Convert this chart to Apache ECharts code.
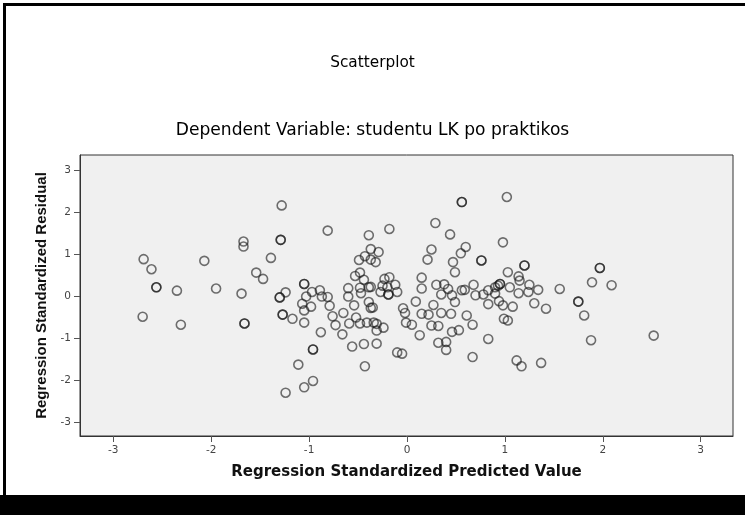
<!DOCTYPE html>
<html>
<head>
<meta charset="utf-8">
<script src="https://cdn.jsdelivr.net/npm/echarts@6/dist/echarts.min.js"></script>
<style>html,body{margin:0;padding:0;background:#fff;}#c{width:745px;height:515px;}</style>
</head>
<body>
<div id="c"></div>
<script>
// Regression standardized predicted values (x) and residuals (y)
const predicted = [
 -1.28,-1.67,-1.67,-0.81,-1.29,-1.29,-2.69,-2.61,-2.07,-1.39,-1.54,-1.47,-2.56,-2.56,-2.35,-1.95,-1.69,-2.70,-2.31,-1.66,-1.66,
 -1.30,-1.30,-1.24,-1.27,-1.27,-1.17,-1.05,-1.05,-1.07,-1.05,-1.03,-0.97,-0.98,-1.05,-0.89,-0.87,-0.81,-0.79,-0.76,-0.73,-0.88,
 -0.96,-0.96,-1.11,-0.96,-1.05,-1.24,-0.65,-0.66,-0.59,-0.60,-0.60,-0.54,-0.53,-0.48,-0.49,-0.43,-0.37,-0.39,-0.48,-0.47,-0.44,
 -0.39,-0.37,-0.39,-0.37,-0.35,-0.52,-0.48,-0.41,-0.34,-0.56,-0.44,-0.43,-0.31,-0.31,-0.32,-0.29,-0.37,-0.18,
 1.02,0.56,0.56,0.29,0.44,0.98,0.25,0.60,0.55,0.21,0.76,0.76,0.47,0.49,1.20,1.20,1.03,1.97,1.97,1.89,2.09,1.56,1.14,1.15,1.25,
 1.24,1.34,1.14,1.05,0.95,0.95,0.93,0.90,0.83,0.78,0.90,0.70,0.68,0.59,0.56,0.83,0.94,0.98,1.08,1.30,1.42,1.75,1.75,1.81,1.88,
 2.52,0.99,1.03,0.83,1.12,1.17,1.37,0.67,0.40,0.32,0.40,-0.10,-0.05,0.13,0.46,0.53,0.67,0.25,0.32,-0.01,0.05,0.61,0.35,0.45,
 0.15,0.22,-0.02,-0.04,0.09,0.27,0.46,0.49,0.35,0.30,0.38,0.42,0.15,0.15,-0.12,-0.10,-0.18,-0.23,-0.25,-0.27,-0.19,-0.19,-0.20,
 -0.31,-0.24
];
const residual = [
 2.16,1.30,1.18,1.56,1.34,1.34,0.88,0.64,0.84,0.91,0.56,0.41,0.21,0.21,0.13,0.18,0.06,-0.49,-0.68,-0.65,-0.65,
 -0.03,-0.03,0.09,-0.44,-0.44,-0.54,0.29,0.29,-0.18,-0.34,-0.01,0.10,-0.25,-0.63,0.14,-0.01,-0.02,-0.23,-0.48,-0.69,-0.86,
 -1.27,-1.27,-1.63,-2.02,-2.17,-2.30,-0.40,-0.91,-0.65,-0.01,0.19,-0.22,0.48,0.56,0.86,0.95,1.12,1.45,0.20,0.07,0.39,
 0.21,0.22,-0.14,-0.28,-0.27,-0.51,-0.65,-0.63,-0.63,-1.20,-1.14,-1.67,-1.13,-0.82,0.81,1.05,0.87,1.60,
 2.36,2.24,2.24,1.74,1.47,1.28,1.11,1.17,1.02,0.87,0.85,0.85,0.81,0.57,0.73,0.73,0.57,0.67,0.67,0.33,0.26,0.17,0.47,0.37,0.27,
 0.10,0.15,0.07,0.21,0.29,0.29,0.25,0.21,0.14,0.04,0.06,0.02,0.27,0.15,0.14,-0.19,-0.12,-0.22,-0.25,-0.17,-0.30,-0.13,-0.13,-0.46,-1.05,
 -0.94,-0.54,-0.58,-1.02,-1.53,-1.67,-1.59,-1.45,-1.28,-1.11,-1.09,-1.34,-1.37,-0.93,-0.85,-0.81,-0.68,-0.70,-0.71,-0.63,-0.68,-0.46,-0.40,-0.42,
 -0.42,-0.44,-0.40,-0.29,-0.13,-0.21,0.02,-0.14,0.04,0.27,0.28,0.17,0.44,0.18,0.27,0.10,0.45,0.41,0.25,0.10,0.04,0.04,0.21,
 -0.66,-0.75
];
const tickValues = [-3, -2, -1, 0, 1, 2, 3];
const titleText = 'Scatterplot';
const subtitleText = 'Dependent Variable: studentu LK po praktikos';
const xName = 'Regression Standardized Predicted Value';
const yName = 'Regression Standardized Residual';

const points = predicted.map((x, i) => [x, residual[i]]);
const chart = echarts.init(document.getElementById('c'), null, {renderer: 'canvas'});
const font = 'Liberation Sans, Arial, sans-serif';
const wide = 'DejaVu Sans, Liberation Sans, sans-serif';
chart.setOption({
  animation: false,
  backgroundColor: '#ffffff',
  title: [
    {text: titleText, left: 'center', top: 51, textStyle: {fontFamily: wide, fontSize: 15.3, fontWeight: 'normal', color: '#000'}},
    {text: subtitleText, left: 'center', top: 117, textStyle: {fontFamily: wide, fontSize: 17.1, fontWeight: 'normal', color: '#000'}}
  ],
  grid: {left: 80, right: 12, top: 155, bottom: 79, show: true, backgroundColor: '#f0f0f0', borderColor: '#333', borderWidth: 1},
  xAxis: {
    type: 'value', min: -3.34, max: 3.33,
    name: xName, nameLocation: 'middle', nameGap: 29,
    nameTextStyle: {fontFamily: wide, fontSize: 15, fontWeight: 'bold', color: '#111'},
    axisLine: {show: true, onZero: false, lineStyle: {color: '#333'}},
    axisTick: {show: true, length: 6, customValues: tickValues, lineStyle: {color: '#555'}},
    axisLabel: {customValues: tickValues, margin: 9, fontFamily: wide, fontSize: 10.5, color: '#444'},
    splitLine: {show: false}
  },
  yAxis: {
    type: 'value', min: -3.33, max: 3.36,
    name: yName, nameLocation: 'middle', nameGap: 27,
    nameTextStyle: {fontFamily: font, fontSize: 15, fontWeight: 'bold', color: '#111'},
    axisLine: {show: true, onZero: false, lineStyle: {color: '#333'}},
    axisTick: {show: true, length: 6, customValues: tickValues, lineStyle: {color: '#555'}},
    axisLabel: {customValues: tickValues, margin: 9, fontFamily: wide, fontSize: 10.5, color: '#444'},
    splitLine: {show: false}
  },
  series: [{
    type: 'scatter', data: points, symbol: 'circle', symbolSize: 9,
    itemStyle: {color: 'rgba(0,0,0,0)', borderColor: 'rgba(20,20,20,0.75)', borderWidth: 1.6}
  }],
  graphic: [
    {type: 'rect', shape: {x: 3, y: 3, width: 742, height: 3}, style: {fill: '#000'}},
    {type: 'rect', shape: {x: 3, y: 3, width: 3, height: 492}, style: {fill: '#000'}},
    {type: 'rect', shape: {x: 0, y: 495, width: 745, height: 20}, style: {fill: '#000'}}
  ]
});
</script>
</body>
</html>
